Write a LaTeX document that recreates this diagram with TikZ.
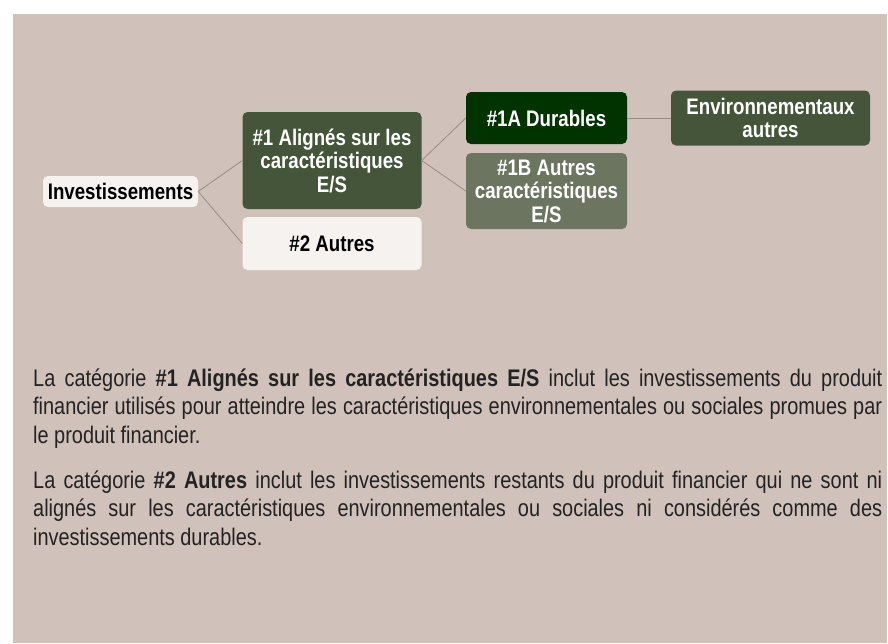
\documentclass[tikz,border=0pt]{standalone}
\usepackage{fontspec}
\setmainfont[FakeStretch=0.83]{Liberation Sans}
\definecolor{panelbg}{RGB}{208,193,186}
\definecolor{olive}{RGB}{69,85,58}
\definecolor{deepgreen}{RGB}{0,51,0}
\definecolor{greygreen}{RGB}{107,117,96}
\definecolor{paleleaf}{RGB}{246,242,240}
\definecolor{linkline}{RGB}{158,138,128}
\definecolor{inkgrey}{RGB}{35,35,35}
\begin{document}
\begin{tikzpicture}[x=1pt, y=-1pt,
    box/.style={rounded corners=5pt, align=center, inner sep=0pt,
      font=\fontsize{22.5}{23.5}\selectfont\bfseries},
    darkbox/.style={box, fill=olive, text=white},
    lightbox/.style={box, fill=paleleaf, text=black},
    link/.style={draw=linkline, line width=0.8pt},
    para/.style={anchor=base west, inner sep=0pt, text width=849pt,
      align=justify, font=\fontsize{24}{28.5}\selectfont, text=inkgrey}
  ]
  \fill[white] (0,0) rectangle (888,643);
  \fill[panelbg] (13,14) rectangle (887,643);

  \node[lightbox, minimum width=155pt, minimum height=31pt] (inv) at (120.5,191.5) {Investissements};
  \node[darkbox, minimum width=179pt, minimum height=97pt] (al) at (332,160.5) {\#1 Alignés sur les\\caractéristiques\\E/S};
  \node[lightbox, minimum width=179pt, minimum height=53pt] (au) at (332,243.5) {\#2 Autres};
  \node[darkbox, fill=deepgreen, minimum width=161pt, minimum height=52pt] (du) at (546.5,118) {\#1A Durables};
  \node[darkbox, fill=greygreen, minimum width=161pt, minimum height=76pt] (ac) at (546.5,191) {\#1B Autres\\caractéristiques\\E/S};
  \node[darkbox, minimum width=199pt, minimum height=55pt] (env) at (770.5,118) {Environnementaux\\autres};

  \draw[link] (inv.east) -- (al.west);
  \draw[link] (inv.east) -- (au.west);
  \draw[link] (al.east) -- (du.west);
  \draw[link] (al.east) -- (ac.west);
  \draw[link] (du.east) -- (env.west);

  \node[para] (p1) at (33,386) {La catégorie \textbf{\#1 Alignés sur les caractéristiques E/S} inclut les investissements du produit\linebreak financier utilisés pour atteindre les caractéristiques environnementales ou sociales promues par\linebreak le produit financier.};
  \node[para] (p2) at (33,488) {La catégorie \textbf{\#2 Autres} inclut les investissements restants du produit financier qui ne sont ni\linebreak alignés sur les caractéristiques environnementales ou sociales ni considérés comme des\linebreak investissements durables.};
\end{tikzpicture}
\end{document}
